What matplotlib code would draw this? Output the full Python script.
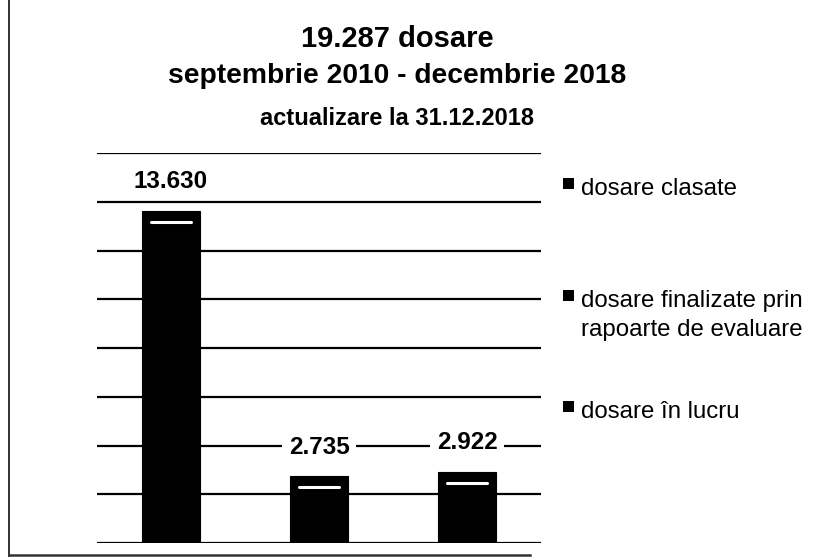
import matplotlib
matplotlib.use("Agg")
import matplotlib.pyplot as plt
from matplotlib.patches import Rectangle
from matplotlib.lines import Line2D
import matplotlib.transforms as mtransforms

plt.rcParams['font.family'] = ['Liberation Sans', 'DejaVu Sans']

# ---- data ----
categories = ["dosare clasate", "dosare finalizate prin\nrapoarte de evaluare", "dosare în lucru"]
values = [13630, 2735, 2922]
value_labels = ["13.630", "2.735", "2.922"]
title_lines = ["19.287 dosare", "septembrie 2010 - decembrie 2018", "actualizare la 31.12.2018"]
y_max = 16000
y_step = 2000

W, H = 817, 560
fig = plt.figure(figsize=(W / 100, H / 100), dpi=100)
fig.patch.set_facecolor("white")

def fx(px):
    return px / W

def fy(py):
    return 1 - py / H

# axes: x 97..541, y 153..543 (pixels)
ax = fig.add_axes([fx(97), fy(543), (541 - 97) / W, (543 - 153) / H])
ax.set_xlim(-0.5, len(values) - 0.5)
ax.set_ylim(0, y_max)
for s in ax.spines.values():
    s.set_visible(False)
ax.set_xticks([])
ax.set_yticks([])

# gridlines
for gv in range(0, y_max + 1, y_step):
    ax.axhline(gv, color="black", lw=1.6, zorder=1)

x = list(range(len(values)))
ax.bar(x, values, width=0.39, color="black", edgecolor="black", lw=0.8, zorder=2)

# white highlight near top of each bar
off = mtransforms.offset_copy(ax.transData, fig=fig, x=0, y=-11, units="dots")
for xi, v in zip(x, values):
    ax.plot([xi - 0.135, xi + 0.135], [v, v], color="white", lw=2.2,
            solid_capstyle="round", transform=off, zorder=3)

# value labels
for xi, v, lab in zip(x, values, value_labels):
    ax.annotate(lab, (xi, v), xytext=(0, 21), textcoords="offset points",
                ha="center", va="center", fontsize=17.5, fontweight="bold",
                bbox=dict(fc="white", ec="none", pad=5), zorder=4)

# titles
fig.text(fx(397), fy(47), title_lines[0], ha="center", va="baseline",
         fontsize=21, fontweight="bold")
fig.text(fx(397), fy(83), title_lines[1], ha="center", va="baseline",
         fontsize=20.3, fontweight="bold")
fig.text(fx(397), fy(125), title_lines[2], ha="center", va="baseline",
         fontsize=17, fontweight="bold")

# legend (manual)
baselines = [195, 307, 418]
for cat, bl in zip(categories, baselines):
    sq = Rectangle((fx(563), fy(bl - 6)), 11 / W, 11 / H, transform=fig.transFigure,
                   facecolor="black", edgecolor="none")
    fig.patches.append(sq)
    lines = cat.split("\n")
    for k, ln in enumerate(lines):
        fig.text(fx(581), fy(bl + 29 * k), ln, ha="left", va="baseline", fontsize=17.3)

# scan border lines
fig.lines.append(Line2D([fx(9), fx(9)], [fy(0), fy(556)], transform=fig.transFigure,
                        color="#222222", lw=1.3))
fig.lines.append(Line2D([fx(9), fx(530)], [fy(555), fy(555)], transform=fig.transFigure,
                        color="#333333", lw=1.8))

fig.savefig("out.png", dpi=100, facecolor="white")
